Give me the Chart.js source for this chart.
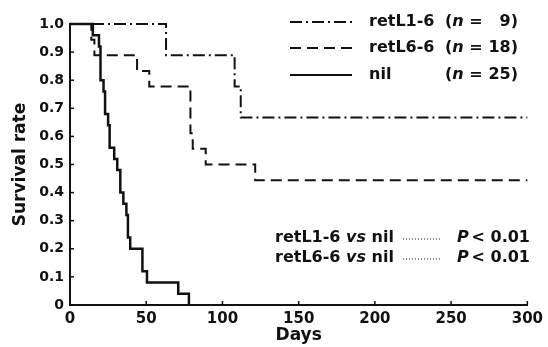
<!DOCTYPE html>
<html>
<head>
<meta charset="utf-8">
<script src="https://cdn.jsdelivr.net/npm/chart.js@4/dist/chart.umd.min.js"></script>
<style>
  html, body { margin: 0; padding: 0; background: #fff; }
  #wrap { width: 548px; height: 347px; }
</style>
</head>
<body>
<div id="wrap"><canvas id="survChart" width="548" height="347"></canvas></div>
<script>
// Kaplan-Meier steps (day of event, survival after it)
const nilDays  = [0, 15, 19, 20, 22, 23, 25, 26, 29, 31, 33, 35, 37, 38, 39.5, 47.5, 50.5, 71, 78];
const nilSurv  = [1, 0.96, 0.92, 0.80, 0.76, 0.68, 0.64, 0.56, 0.52, 0.48, 0.40, 0.36, 0.32, 0.24, 0.20, 0.12, 0.08, 0.04, 0];

const l66Days  = [0, 14, 16, 44, 52, 79, 80.5, 89, 121.5, 300];
const l66Surv  = [1, 0.944, 0.889, 0.833, 0.778, 0.611, 0.556, 0.5, 0.444, 0.444];

const l16Days  = [0, 63, 108, 112, 300];
const l16Surv  = [1, 0.889, 0.778, 0.667, 0.667];

const xTicks = [0, 50, 100, 150, 200, 250, 300];
const yTicks = [0, 0.1, 0.2, 0.3, 0.4, 0.5, 0.6, 0.7, 0.8, 0.9, 1.0];

const FONT = "'DejaVu Sans', sans-serif";
const INK = '#111';

const pts = (xs, ys) => xs.map((x, i) => ({ x: x, y: ys[i] }));

const dashDot = [12, 4, 2, 4];
const dashed = [11, 6];

// legend, p-value notes and inside tick marks
const extras = {
    id: 'extras',
    afterDraw(chart) {
        const c = chart.ctx;
        const area = chart.chartArea;
        const xs = chart.scales.x, ys = chart.scales.y;
        c.save();
        c.strokeStyle = INK;
        c.lineWidth = 1.5;
        yTicks.forEach(v => {
            if (v === 0) return;
            const y = ys.getPixelForValue(v);
            c.beginPath(); c.moveTo(area.left, y); c.lineTo(area.left + 4, y); c.stroke();
        });
        xTicks.forEach(v => {
            if (v === 0) return;
            const x = xs.getPixelForValue(v);
            c.beginPath(); c.moveTo(x, area.bottom); c.lineTo(x, area.bottom - 4); c.stroke();
        });

        // legend
        const rows = [
            { name: 'retL1-6', n: '9', dash: dashDot, y: 22 },
            { name: 'retL6-6', n: '18', dash: dashed, y: 48 },
            { name: 'nil', n: '25', dash: [], y: 75 }
        ];
        c.fillStyle = INK;
        c.textBaseline = 'middle';
        rows.forEach(r => {
            c.lineWidth = 2;
            c.setLineDash(r.dash);
            c.beginPath(); c.moveTo(290, r.y); c.lineTo(352, r.y); c.stroke();
            c.setLineDash([]);
            c.font = 'bold 16px ' + FONT;
            c.textAlign = 'left';
            c.fillText(r.name, 369, r.y);
            c.fillText('(', 445, r.y);
            let w = c.measureText('(').width;
            c.font = 'italic bold 16px ' + FONT;
            c.fillText('n', 445 + w, r.y);
            w += c.measureText('n').width;
            c.font = 'bold 16px ' + FONT;
            c.fillText(' =', 445 + w, r.y);
            c.textAlign = 'right';
            c.fillText(r.n + ')', 518, r.y);
        });

        // comparisons
        const notes = [
            { name: 'retL1-6', y: 238 },
            { name: 'retL6-6', y: 258 }
        ];
        notes.forEach(r => {
            let x = 275;
            c.textAlign = 'left';
            c.font = 'bold 16px ' + FONT;
            c.fillText(r.name + ' ', x, r.y);
            x += c.measureText(r.name + ' ').width;
            c.font = 'italic bold 16px ' + FONT;
            c.fillText('vs', x, r.y);
            x += c.measureText('vs').width;
            c.font = 'bold 16px ' + FONT;
            c.fillText(' nil', x, r.y);
            c.lineWidth = 1;
            c.setLineDash([1, 2]);
            c.beginPath(); c.moveTo(403, r.y + 1); c.lineTo(442, r.y + 1); c.stroke();
            c.setLineDash([]);
            c.font = 'italic bold 16px ' + FONT;
            c.fillText('P', 457, r.y);
            c.font = 'bold 16px ' + FONT;
            c.textAlign = 'right';
            c.fillText('< 0.01', 530, r.y);
        });
        c.restore();
    }
};

new Chart(document.getElementById('survChart').getContext('2d'), {
    type: 'line',
    data: {
        datasets: [
            {
                label: 'nil',
                data: pts(nilDays, nilSurv),
                borderColor: INK,
                borderWidth: 2.5,
                stepped: true,
                pointRadius: 0,
                clip: false
            },
            {
                label: 'retL6-6',
                data: pts(l66Days, l66Surv),
                borderColor: INK,
                borderWidth: 2,
                borderDash: dashed,
                stepped: true,
                pointRadius: 0,
                clip: false
            },
            {
                label: 'retL1-6',
                data: pts(l16Days, l16Surv),
                borderColor: INK,
                borderWidth: 2,
                borderDash: dashDot,
                stepped: true,
                pointRadius: 0,
                clip: false
            }
        ]
    },
    options: {
        responsive: false,
        animation: false,
        layout: { padding: { top: 24, right: 18, left: 0, bottom: 0 } },
        scales: {
            x: {
                type: 'linear',
                min: 0,
                max: 300,
                afterFit: s => { s.height = 42; },
                afterBuildTicks: s => { s.ticks = xTicks.map(v => ({ value: v })); },
                grid: { display: false, drawTicks: false },
                border: { display: true, color: INK, width: 2 },
                ticks: { color: INK, padding: 5, maxRotation: 0, font: { family: FONT, size: 15, weight: 'bold' } },
                title: { display: true, text: 'Days', color: INK, padding: { top: 0, bottom: 1 }, font: { family: FONT, size: 17, weight: 'bold' } }
            },
            y: {
                min: 0,
                max: 1,
                afterFit: s => { s.width = 70; },
                afterBuildTicks: s => { s.ticks = yTicks.map(v => ({ value: v })); },
                grid: { display: false, drawTicks: false },
                border: { display: true, color: INK, width: 2 },
                ticks: {
                    color: INK,
                    padding: 6,
                    font: { family: FONT, size: 14, weight: 'bold' },
                    callback: v => v === 0 ? '0' : v.toFixed(1)
                },
                title: { display: true, text: 'Survival rate', color: INK, padding: { top: 10, bottom: 0 }, font: { family: FONT, size: 17, weight: 'bold' } }
            }
        },
        plugins: {
            legend: { display: false },
            tooltip: { enabled: false }
        }
    },
    plugins: [extras]
});
</script>
</body>
</html>
